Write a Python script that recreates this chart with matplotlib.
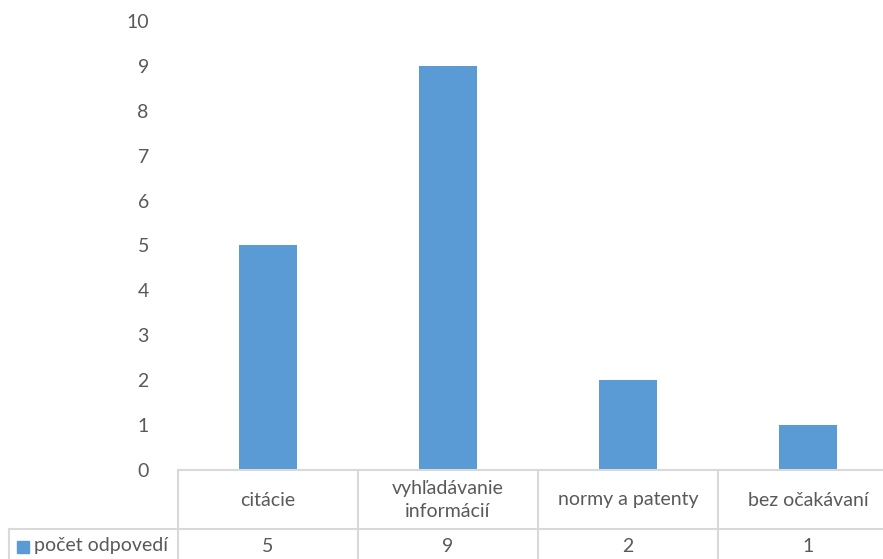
import matplotlib
matplotlib.use('Agg')
import matplotlib.pyplot as plt
import matplotlib.transforms as mtransforms
from matplotlib.lines import Line2D
from matplotlib.patches import Rectangle
import numpy as np

categories = ['citácie', 'vyhľadávanie\ninformácií', 'normy a patenty', 'bez očakávaní']
values = [5, 9, 2, 1]
series_name = 'počet odpovedí'

bar_color = '#5B9BD5'
text_color = '#595959'
line_color = '#D9D9D9'
fs = 14

plt.rcParams['font.family'] = ['Lato', 'DejaVu Sans']

W, H = 883, 559
fig = plt.figure(figsize=(W / 100, H / 100), dpi=100)

# plot area in pixels: left 178, right 898 (runs past the edge), top 21, bottom 470
left, right, top, bottom = 178, 898, 21, 470
ax = fig.add_axes([left / W, (H - bottom) / H, (right - left) / W, (bottom - top) / H])

x = np.arange(len(categories))
ax.bar(x, values, width=0.317, color=bar_color, zorder=2)

ax.set_xlim(-0.5, len(categories) - 0.5)
ax.set_ylim(0, 10)
ax.set_yticks(range(0, 11))
ax.tick_params(axis='y', length=0, pad=21, labelsize=fs, labelcolor=text_color)
ax.set_xticks([])
for side in ['left', 'right', 'top']:
    ax.spines[side].set_visible(False)
ax.spines['bottom'].set_color(line_color)
ax.spines['bottom'].set_linewidth(1.5)

# data table under the axis
trans = mtransforms.blended_transform_factory(ax.transData, ax.transAxes)
px = 1 / (bottom - top)
row_sep = -(529 - bottom) * px
table_bottom = -(H + 5 - bottom) * px
cat_y = -(500 - bottom) * px
val_y = -(546 - bottom) * px

bounds = np.arange(len(categories) + 1) - 0.5
for b in bounds:
    ax.add_line(Line2D([b, b], [0, table_bottom], transform=trans, color=line_color,
                       lw=1.5, clip_on=False))

# horizontal separator between category row and value row, including the legend cell
label_left = (9 - left) / (right - left)
ax.add_line(Line2D([label_left, 1], [row_sep, row_sep], transform=ax.transAxes,
                   color=line_color, lw=1.5, clip_on=False))
ax.add_line(Line2D([label_left, label_left], [row_sep, table_bottom], transform=ax.transAxes,
                   color=line_color, lw=1.5, clip_on=False))

for xi, cat, v in zip(x, categories, values):
    ax.text(xi, cat_y, cat, transform=trans, ha='center', va='center', fontsize=fs,
            color=text_color, linespacing=1.4)
    ax.text(xi, val_y, str(v), transform=trans, ha='center', va='center', fontsize=fs,
            color=text_color)

# legend key and series name in the first column
fig.patches.append(Rectangle((17 / W, (H - 553) / H), 12 / W, 12 / H,
                             transform=fig.transFigure, color=bar_color))
fig.text(34 / W, (H - 546) / H, series_name, ha='left', va='center', fontsize=fs,
         color=text_color)

fig.savefig('out.png', dpi=100)
